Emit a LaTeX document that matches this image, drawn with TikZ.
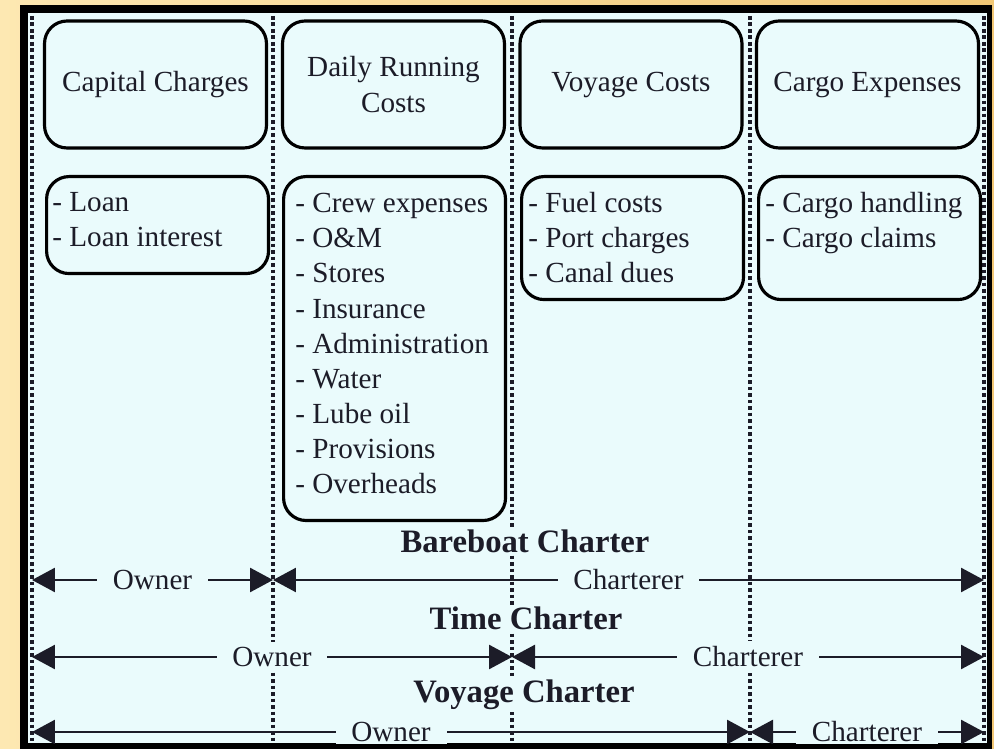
\documentclass[tikz,border=0pt]{standalone}
\usepackage{fontspec}
\setmainfont{Liberation Serif}
\usetikzlibrary{arrows.meta}
\definecolor{panel}{RGB}{234,251,252}
\definecolor{ink}{RGB}{28,28,40}
\definecolor{sandA}{RGB}{253,232,178}
\definecolor{sandB}{RGB}{242,200,118}
\newcommand{\costfont}{\fontsize{16.6pt}{20pt}\selectfont}
\newcommand{\charterfont}{\fontsize{18.6pt}{22pt}\selectfont\bfseries}

\begin{document}
\begin{tikzpicture}[x=0.02cm,y=-0.02cm,
    headbox/.style={draw,line width=1.8pt,rounded corners=0.45cm,minimum width=4.44cm,minimum height=2.54cm,align=center,font=\costfont,text=ink},
    listbox/.style={draw,line width=1.8pt,rounded corners=0.45cm,anchor=north west,minimum width=4.44cm,inner sep=0pt},
    listtext/.style={anchor=north west,inner sep=0pt,align=left,font=\costfont,text=ink},
    divider/.style={ink,line width=2.1pt,dash pattern=on 2.1pt off 1.6pt},
    charter/.style={fill=panel,inner sep=1pt,font=\charterfont,text=ink},
    span/.style={ink,line width=1.5pt,arrows={Triangle[length=0.46cm,width=0.48cm]-Triangle[length=0.46cm,width=0.48cm]}},
    party/.style={fill=panel,inner xsep=9pt,inner ysep=3pt,font=\costfont,text=ink}]
    \useasboundingbox (0,0) rectangle (994,749);
    \shade[left color=sandA,right color=sandB] (0,0) rectangle (994,749);
    \fill[black] (20,5) rectangle (992,749);
    \fill[panel] (28,13) rectangle (987,743);

    \begin{scope}
    \clip (28,13) rectangle (987,743);
    \foreach \x in {32,273,512,750,984}
        \draw[divider] (\x,16) -- (\x,743);

    \node[headbox] (capital) at (155.5,84.5) {Capital Charges};
    \node[headbox] (running) at (393.5,84.5) {Daily Running\\Costs};
    \node[headbox] (voyage) at (631,84.5) {Voyage Costs};
    \node[headbox] (cargo) at (867.5,84.5) {Cargo Expenses};

    \node[listbox,minimum height=1.94cm] (loanbox) at (45,175) {};
    \node[listbox,minimum height=6.88cm] (crewbox) at (282,175) {};
    \node[listbox,minimum height=2.46cm] (fuelbox) at (520,175) {};
    \node[listbox,minimum height=2.46cm] (cargobox) at (757,175) {};

    \node[listtext] (loanlist) at (52,192) {- Loan\\- Loan interest};
    \node[listtext] (crewlist) at (295,193) {- Crew expenses\\- O\&M\\- Stores\\- Insurance\\- Administration\\- Water\\- Lube oil\\- Provisions\\- Overheads};
    \node[listtext] (fuellist) at (528,192) {- Fuel costs\\- Port charges\\- Canal dues};
    \node[listtext] (cargolist) at (765,192) {- Cargo handling\\- Cargo claims};

    \node[charter] (bareboat) at (525,541) {Bareboat Charter};
    \node[charter] (timec) at (526,618) {Time Charter};
    \node[charter] (voyagec) at (524,695) {Voyage Charter};

    \coordinate (bbL) at (32,580);
    \coordinate (bbM) at (273,580);
    \coordinate (bbR) at (984,580);
    \coordinate (tcL) at (32,657);
    \coordinate (tcM) at (512,657);
    \coordinate (tcR) at (984,657);
    \coordinate (vcL) at (32,732);
    \coordinate (vcM) at (750,732);
    \coordinate (vcR) at (984,732);

    \draw[span] (bbL) -- node[party] (bbowner) {Owner} (bbM);
    \draw[span] (bbM) -- node[party] (bbcharterer) {Charterer} (bbR);
    \draw[span] (tcL) -- node[party] (tcowner) {Owner} (tcM);
    \draw[span] (tcM) -- node[party] (tccharterer) {Charterer} (tcR);
    \draw[span] (vcL) -- node[party] (vcowner) {Owner} (vcM);
    \draw[span] (vcM) -- node[party] (vccharterer) {Charterer} (vcR);
    \end{scope}
\end{tikzpicture}
\end{document}
